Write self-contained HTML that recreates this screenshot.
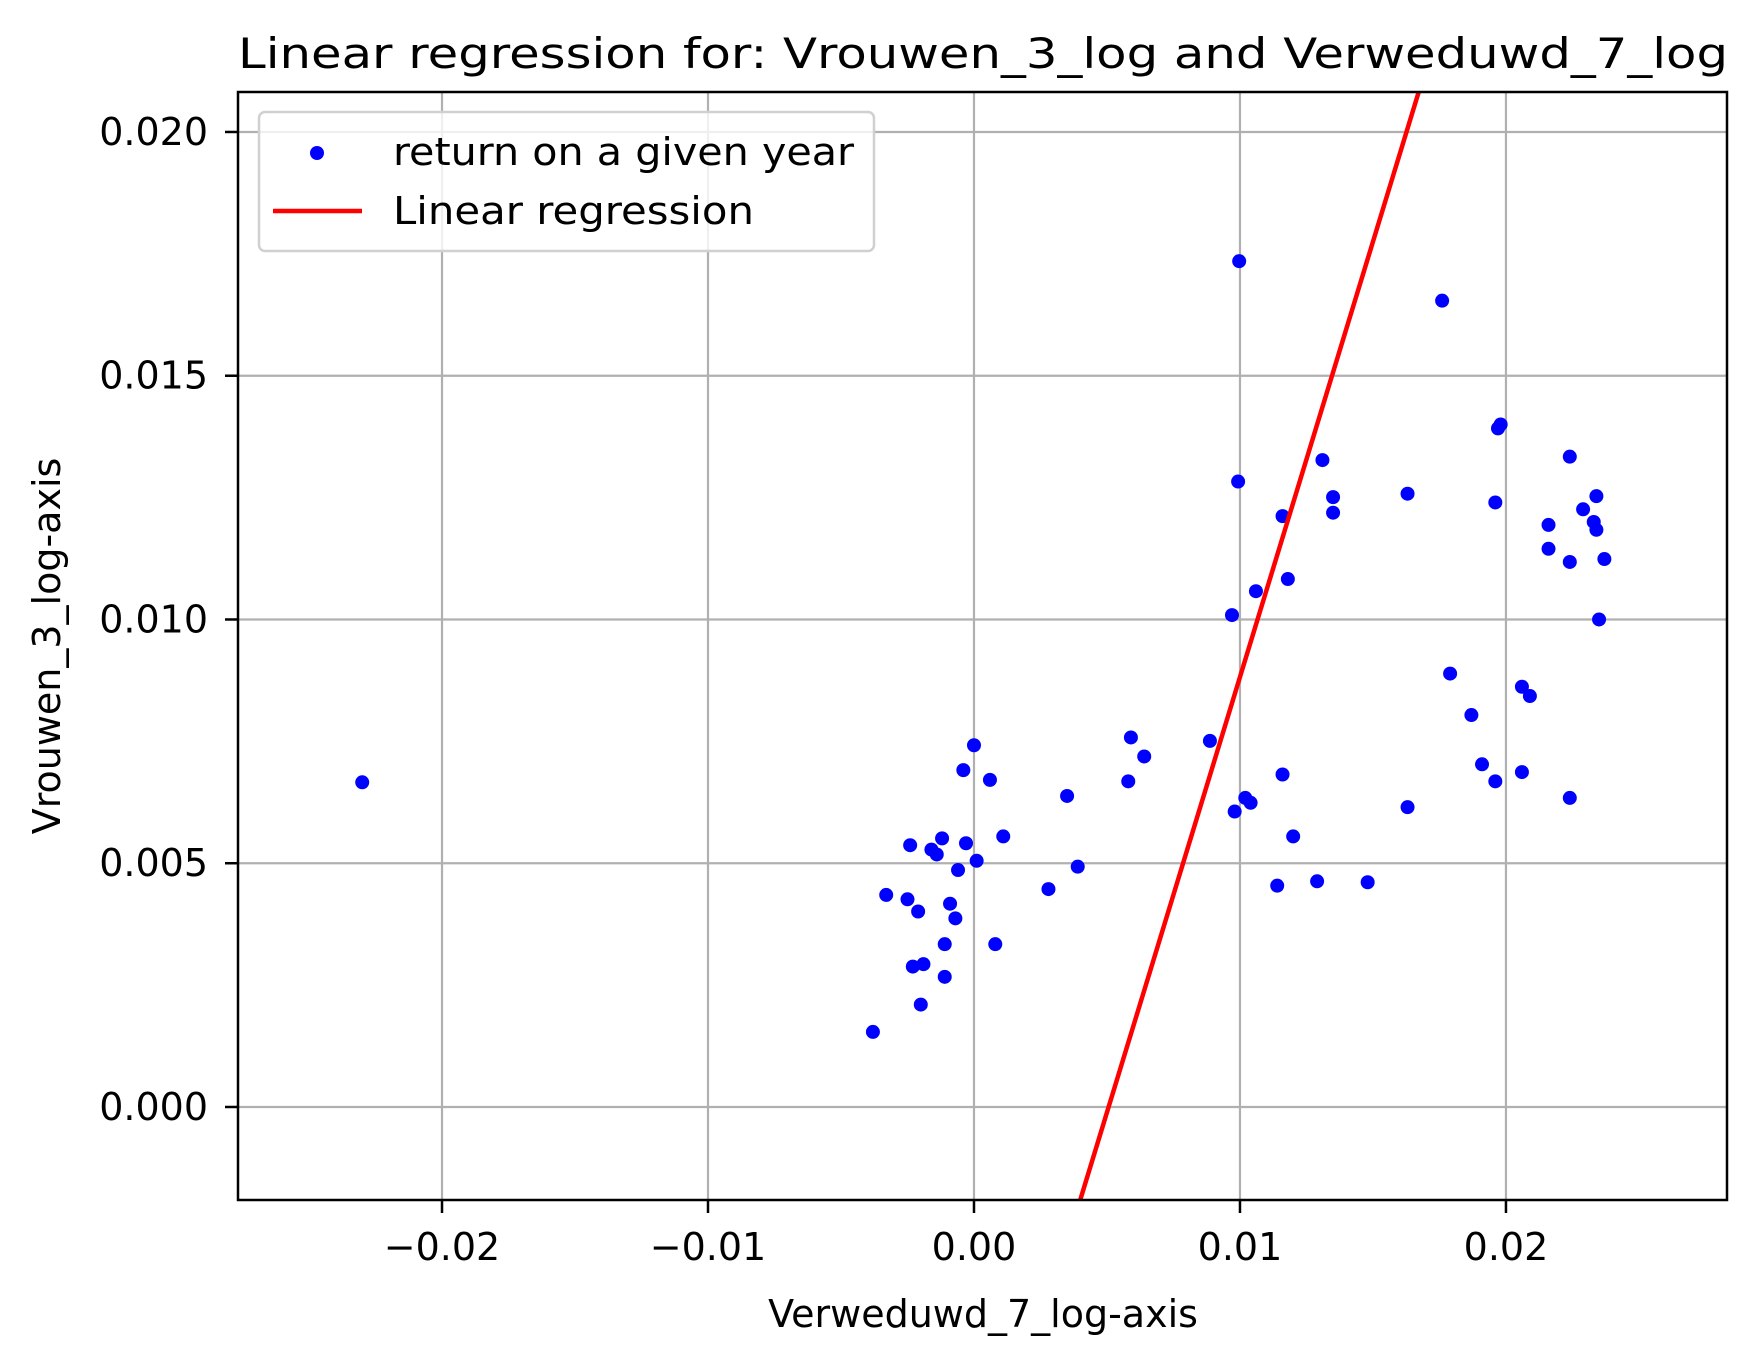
<!DOCTYPE html>
<html><head><meta charset="utf-8"><style>
html,body{margin:0;padding:0;background:#fff;overflow:hidden;width:1761px;height:1362px;}
svg{display:block;}
svg text{font-family:"DejaVu Sans","Liberation Sans",sans-serif;fill:#000;}
</style></head><body>
<svg id="chart" width="1761" height="1362" viewBox="0 0 1761 1362" xmlns="http://www.w3.org/2000/svg">
<rect width="1761" height="1362" fill="#fff"/>
<defs><clipPath id="plotclip"><rect x="238" y="92" width="1489" height="1108"/></clipPath></defs>
<g id="grid"></g>
<g id="series" clip-path="url(#plotclip)"></g>
<rect x="238" y="92" width="1489" height="1108" fill="none" stroke="#000" stroke-width="2.5"/>
<g id="ticks"></g>
<text x="983" y="68" font-size="42" text-anchor="middle" textLength="1490" lengthAdjust="spacingAndGlyphs">Linear regression for: Vrouwen_3_log and Verweduwd_7_log</text>
<text x="983" y="1327" font-size="38" text-anchor="middle">Verweduwd_7_log-axis</text>
<text x="0" y="0" font-size="38" text-anchor="middle" transform="translate(60,646) rotate(-90)">Vrouwen_3_log-axis</text>
<g>
<rect x="259" y="112" width="615" height="139" rx="6" fill="#fff" fill-opacity="0.8" stroke="#d0d0d0" stroke-width="2.5"/>
<circle cx="317" cy="153" r="7" fill="#0000ff"/>
<text x="393" y="165" font-size="38" textLength="461" lengthAdjust="spacingAndGlyphs">return on a given year</text>
<line x1="273" y1="211" x2="362" y2="211" stroke="#ff0000" stroke-width="4.5"/>
<text x="393" y="224" font-size="38" textLength="361" lengthAdjust="spacingAndGlyphs">Linear regression</text>
</g>
</svg>
<script>
const xs = [-0.0230,0.00997,0.0176,0.0198,0.0197,0.0131,0.0224,0.00993,0.0135,0.0163,0.0196,0.0234,0.0135,0.0116,0.0229,0.0216,0.0233,0.0234,0.0216,0.0224,0.0237,0.0118,0.0106,0.0097,0.0235,0.0179,0.0206,0.0209,0.0187,0.0059,0.00887,0.0000,0.0064,0.0191,-0.0004,0.0206,0.0116,0.0006,0.0058,0.0196,0.0035,0.0102,0.0224,0.0104,0.0163,0.0098,0.0011,0.0120,-0.0012,-0.0024,-0.0003,-0.0016,-0.0014,0.0001,-0.0006,0.0039,0.0129,0.0148,0.0114,0.0028,-0.0033,-0.0025,-0.0009,-0.0021,-0.0007,0.0008,-0.0011,-0.0019,-0.0023,-0.0011,-0.0020,-0.0038];
const ys = [0.00666,0.01735,0.01654,0.0140,0.01392,0.01327,0.01334,0.01283,0.01251,0.01258,0.0124,0.01253,0.01219,0.01212,0.01226,0.01194,0.0120,0.01184,0.01145,0.01118,0.01124,0.01083,0.01058,0.01009,0.0100,0.00889,0.00862,0.00843,0.00804,0.00758,0.00751,0.00742,0.00719,0.00703,0.00691,0.00687,0.00682,0.00671,0.00668,0.00668,0.00638,0.00634,0.00634,0.00624,0.00615,0.00606,0.00555,0.00555,0.00551,0.00537,0.00541,0.00528,0.00518,0.00505,0.00486,0.00493,0.00463,0.00461,0.00454,0.00447,0.00435,0.00426,0.00417,0.00401,0.00387,0.00334,0.00334,0.00293,0.00288,0.00267,0.00210,0.00154];
const regSlope = 1.786;
const regIntercept = -0.00904;
const xTicks = [-0.02,-0.01,0.00,0.01,0.02];
const xTickLabels = ["\u22120.02","\u22120.01","0.00","0.01","0.02"];
const yTicks = [0.000,0.005,0.010,0.015,0.020];
const yTickLabels = ["0.000","0.005","0.010","0.015","0.020"];

const X0=238,X1=1727,Y0=92,Y1=1200;
const xMin=-0.02767,xMax=0.02831,yMin=-0.001908,yMax=0.02082;
function sx(v){return X0+(v-xMin)/(xMax-xMin)*(X1-X0);}
function sy(v){return Y1-(v-yMin)/(yMax-yMin)*(Y1-Y0);}
const NS="http://www.w3.org/2000/svg";
function mk(tag,attrs,parent){const e=document.createElementNS(NS,tag);for(const k in attrs)e.setAttribute(k,attrs[k]);parent.appendChild(e);return e;}
const grid=document.getElementById('grid'),ticks=document.getElementById('ticks'),series=document.getElementById('series');
xTicks.forEach((t,i)=>{
  const x=sx(t);
  const g=mk('line',{x1:x,y1:Y0,x2:x,y2:Y1,stroke:'#b0b0b0','stroke-width':2.2},grid);
  
  
  const tk=mk('line',{x1:x,y1:Y1,x2:x,y2:Y1+13,stroke:'#000','stroke-width':2.5},ticks);
  
  
  const tl=mk('text',{x:x,y:Y1+60,'font-size':38,'text-anchor':'middle'},ticks);
  tl.textContent=xTickLabels[i];
  
  
});
yTicks.forEach((t,i)=>{
  const y=sy(t);
  const g=mk('line',{x1:X0,y1:y,x2:X1,y2:y,stroke:'#b0b0b0','stroke-width':2.2},grid);
  
  
  const tk=mk('line',{x1:X0-13,y1:y,x2:X0,y2:y,stroke:'#000','stroke-width':2.5},ticks);
  
  
  const tl=mk('text',{x:X0-30,y:y+13,'font-size':38,'text-anchor':'end'},ticks);
  tl.textContent=yTickLabels[i];
  
  
});
xs.forEach((v,i)=>{
  const c=mk('circle',{cx:sx(v),cy:sy(ys[i]),r:7,fill:'#0000ff'},series);
  
  
});
const ln=mk('line',{x1:sx(xMin),y1:sy(regIntercept+regSlope*xMin),x2:sx(xMax),y2:sy(regIntercept+regSlope*xMax),stroke:'#ff0000','stroke-width':4.5},series);


</script>
</body></html>
